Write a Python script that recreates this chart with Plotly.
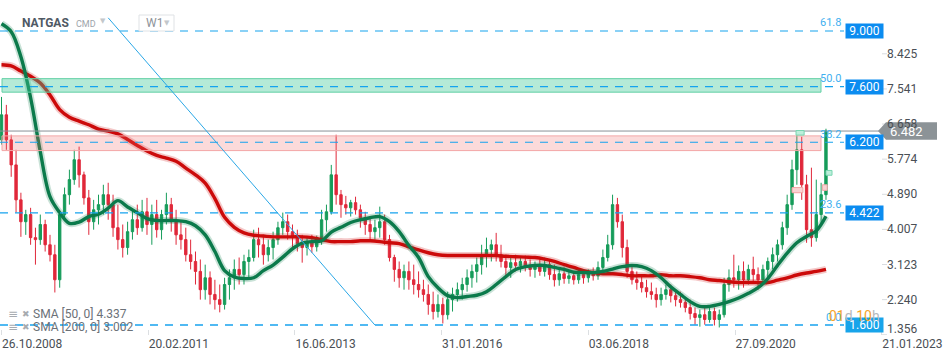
import plotly.graph_objects as go

# ---------------- data ----------------
# bar positions in weeks since 26.10.2008 (one bar every 4 weeks)
bar_week = list(range(0, 684, 4))

opens = [6.26, 6.89, 6.26, 5.63, 4.75, 4.20, 4.38, 3.80, 3.75, 4.13,
         3.62, 3.37, 2.74, 4.38, 4.88, 5.26, 5.76, 5.38, 4.80, 4.20,
         4.50, 4.63, 4.88, 4.63, 4.05, 3.75, 3.55, 3.95, 4.25, 4.05,
         4.45, 4.13, 4.38, 4.00, 4.38, 4.63, 4.20, 3.87, 3.75, 3.37,
         3.20, 2.95, 2.49, 2.79, 2.37, 2.24, 2.12, 2.62, 2.79, 3.00,
         2.87, 3.20, 3.30, 3.75, 3.62, 3.37, 3.55, 3.75, 4.05, 4.20,
         3.95, 3.80, 3.65, 3.55, 3.67, 3.57, 3.75, 4.25, 4.45, 5.38,
         4.88, 4.63, 4.55, 4.68, 4.50, 4.30, 4.13, 3.95, 4.05, 4.20,
         3.75, 3.30, 3.00, 2.79, 2.95, 2.74, 2.62, 2.49, 2.37, 2.12,
         1.94, 2.12, 1.86, 2.24, 2.37, 2.49, 2.62, 2.79, 2.95, 3.12,
         3.37, 3.50, 3.62, 3.37, 3.20, 3.05, 3.17, 3.10, 3.20, 3.05,
         3.00, 3.10, 2.95, 3.12, 2.87, 2.74, 2.89, 2.77, 2.84, 2.74,
         2.87, 2.79, 2.89, 2.84, 3.05, 3.30, 3.62, 4.63, 4.20, 3.55,
         2.95, 2.74, 2.67, 2.54, 2.44, 2.37, 2.24, 2.37, 2.49, 2.34,
         2.24, 2.17, 2.04, 1.89, 1.79, 1.86, 1.74, 1.94, 1.74, 1.86,
         2.62, 2.79, 2.74, 2.95, 2.74, 3.00, 2.87, 2.74, 3.00, 3.20,
         3.37, 3.62, 4.05, 4.63, 5.51, 6.01, 5.13, 4.00, 3.80, 4.38,
         4.88]

highs = [7.34, 7.14, 6.39, 6.01, 4.93, 4.50, 4.55, 4.05, 4.38, 4.25,
         3.87, 3.62, 4.50, 5.06, 5.51, 6.01, 6.09, 5.46, 5.00, 4.75,
         4.88, 5.13, 5.18, 4.88, 4.63, 4.13, 4.20, 4.50, 4.63, 4.75,
         4.80, 4.63, 4.75, 4.50, 4.93, 4.80, 4.50, 4.20, 4.05, 3.75,
         3.45, 3.25, 3.12, 2.95, 2.74, 2.62, 2.79, 3.00, 3.25, 3.30,
         3.37, 3.50, 4.00, 4.05, 3.87, 3.75, 3.95, 4.20, 4.43, 4.38,
         4.13, 4.00, 3.87, 3.82, 3.87, 3.85, 4.50, 4.63, 5.63, 6.39,
         5.00, 4.85, 4.75, 4.83, 4.63, 4.45, 4.30, 4.25, 4.58, 4.38,
         3.87, 3.37, 3.20, 3.12, 3.20, 3.12, 2.95, 2.74, 2.62, 2.44,
         2.37, 2.29, 2.44, 2.54, 2.67, 2.79, 3.00, 3.12, 3.30, 3.62,
         3.80, 3.75, 3.92, 3.62, 3.37, 3.30, 3.37, 3.32, 3.35, 3.25,
         3.20, 3.25, 3.30, 3.25, 3.12, 3.05, 3.05, 2.95, 2.95, 2.97,
         3.00, 3.00, 3.05, 3.20, 3.50, 3.87, 4.88, 4.80, 4.38, 3.75,
         3.12, 2.95, 2.84, 2.74, 2.67, 2.54, 2.54, 2.62, 2.62, 2.49,
         2.44, 2.29, 2.24, 2.04, 1.99, 2.09, 2.04, 2.04, 1.99, 2.79,
         3.00, 3.37, 3.10, 3.20, 3.12, 3.32, 3.05, 3.12, 3.30, 3.55,
         3.75, 4.20, 4.88, 5.76, 6.44, 6.34, 5.38, 5.56, 5.26, 5.18,
         6.54]

lows = [6.14, 6.01, 5.33, 4.43, 3.82, 3.87, 3.62, 3.12, 3.62, 3.45,
        3.20, 2.42, 2.54, 4.25, 4.63, 5.13, 5.06, 4.63, 3.87, 4.00,
        4.13, 4.38, 4.25, 3.82, 3.50, 3.30, 3.37, 3.75, 3.87, 3.95,
        3.87, 3.62, 3.80, 3.75, 4.13, 3.95, 3.62, 3.50, 3.20, 3.00,
        2.62, 2.24, 2.24, 2.12, 1.99, 1.92, 1.99, 2.24, 2.49, 2.62,
        2.62, 2.74, 3.20, 3.30, 3.12, 3.20, 3.25, 3.62, 3.87, 3.75,
        3.55, 3.45, 3.17, 3.35, 3.42, 3.45, 3.62, 3.95, 4.38, 4.63,
        4.30, 4.38, 4.33, 4.38, 4.05, 3.87, 3.75, 3.75, 3.80, 3.62,
        3.20, 2.69, 2.54, 2.49, 2.49, 2.37, 2.29, 2.19, 1.86, 1.74,
        1.79, 1.64, 1.74, 1.94, 2.19, 2.24, 2.44, 2.54, 2.67, 2.87,
        3.05, 3.20, 3.20, 3.05, 2.82, 2.79, 2.95, 2.92, 2.95, 2.82,
        2.79, 2.84, 2.82, 2.74, 2.57, 2.59, 2.64, 2.64, 2.62, 2.64,
        2.64, 2.67, 2.72, 2.74, 2.89, 3.20, 3.50, 4.05, 3.30, 2.79,
        2.62, 2.49, 2.42, 2.29, 2.24, 2.04, 2.09, 2.24, 2.17, 2.07,
        2.04, 1.92, 1.74, 1.61, 1.56, 1.61, 1.66, 1.59, 1.54, 1.79,
        2.44, 2.54, 2.49, 2.54, 2.62, 2.69, 2.49, 2.62, 2.79, 3.00,
        3.20, 3.50, 3.87, 4.50, 5.13, 4.75, 3.67, 3.57, 3.70, 4.13,
        4.75]

closes = [6.89, 6.26, 5.63, 4.75, 4.20, 4.38, 3.80, 3.75, 4.13, 3.62,
          3.37, 2.74, 4.38, 4.88, 5.26, 5.76, 5.38, 4.80, 4.20, 4.50,
          4.63, 4.88, 4.63, 4.05, 3.75, 3.55, 3.95, 4.25, 4.05, 4.45,
          4.13, 4.38, 4.00, 4.38, 4.63, 4.20, 3.87, 3.75, 3.37, 3.20,
          2.95, 2.49, 2.79, 2.37, 2.24, 2.12, 2.62, 2.79, 3.00, 2.87,
          3.20, 3.30, 3.75, 3.62, 3.37, 3.55, 3.75, 4.05, 4.20, 3.95,
          3.80, 3.65, 3.55, 3.67, 3.57, 3.75, 4.25, 4.45, 5.38, 4.88,
          4.63, 4.55, 4.68, 4.50, 4.30, 4.13, 3.95, 4.05, 4.20, 3.75,
          3.30, 3.00, 2.79, 2.95, 2.74, 2.62, 2.49, 2.37, 2.12, 1.94,
          2.12, 1.86, 2.24, 2.37, 2.49, 2.62, 2.79, 2.95, 3.12, 3.37,
          3.50, 3.62, 3.37, 3.20, 3.05, 3.17, 3.10, 3.20, 3.05, 3.00,
          3.10, 2.95, 3.12, 2.87, 2.74, 2.89, 2.77, 2.84, 2.74, 2.87,
          2.79, 2.89, 2.84, 3.05, 3.30, 3.62, 4.63, 4.20, 3.55, 2.95,
          2.74, 2.67, 2.54, 2.44, 2.37, 2.24, 2.37, 2.49, 2.34, 2.24,
          2.17, 2.04, 1.89, 1.79, 1.86, 1.74, 1.94, 1.74, 1.86, 2.62,
          2.79, 2.74, 2.95, 2.74, 3.00, 2.87, 2.74, 3.00, 3.20, 3.37,
          3.62, 4.05, 4.63, 5.51, 6.01, 5.13, 4.00, 3.80, 4.38, 4.88,
          6.482]

# moving averages sampled every 8 weeks
sma_week = list(range(0, 681, 8))
sma50 = [9.18, 8.98, 8.35, 7.32, 5.96, 4.83, 4.43, 4.16, 4.19, 4.33,
         4.39, 4.54, 4.73, 4.57, 4.43, 4.28, 4.23, 4.23, 4.23, 4.20,
         4.10, 3.87, 3.45, 2.97, 2.81, 2.77, 2.79, 2.97, 3.11, 3.31,
         3.52, 3.66, 3.70, 3.72, 3.94, 4.06, 4.18, 4.25, 4.30, 4.33,
         4.20, 3.95, 3.60, 3.30, 2.82, 2.54, 2.34, 2.29, 2.32, 2.35,
         2.44, 2.62, 2.82, 3.00, 3.07, 3.10, 3.10, 3.05, 3.00, 2.93,
         2.92, 2.92, 2.95, 3.01, 3.07, 3.10, 3.07, 2.97, 2.79, 2.56,
         2.37, 2.19, 2.07, 2.07, 2.12, 2.19, 2.28, 2.40, 2.54, 2.77,
         3.10, 3.41, 3.67, 3.83, 3.97, 4.337]
sma200 = [8.15, 8.12, 7.99, 7.86, 7.69, 7.39, 7.02, 6.83, 6.73, 6.64,
          6.53, 6.48, 6.41, 6.27, 6.12, 5.98, 5.87, 5.80, 5.72, 5.55,
          5.38, 5.17, 4.78, 4.31, 4.06, 3.92, 3.86, 3.84, 3.82, 3.82,
          3.82, 3.82, 3.80, 3.75, 3.70, 3.70, 3.70, 3.72, 3.72, 3.70,
          3.67, 3.65, 3.57, 3.49, 3.42, 3.37, 3.35, 3.35, 3.35, 3.35,
          3.35, 3.35, 3.33, 3.32, 3.31, 3.30, 3.26, 3.20, 3.12, 3.05,
          2.97, 2.92, 2.89, 2.89, 2.87, 2.84, 2.84, 2.84, 2.87, 2.84,
          2.84, 2.82, 2.79, 2.74, 2.72, 2.69, 2.67, 2.67, 2.67, 2.67,
          2.73, 2.79, 2.86, 2.91, 2.95, 3.002]

tick_weeks = [0, 121, 242, 363, 484, 605, 726]
tick_labels = ["26.10.2008", "20.02.2011", "16.06.2013", "31.01.2016",
               "03.06.2018", "27.09.2020", "21.01.2023"]
price_ticks = [8.425, 7.541, 6.658, 5.774, 4.890, 4.007, 3.123, 2.240, 1.356]

fib_levels = [9.000, 7.600, 6.200, 4.422, 1.600]
fib_names = ["61.8", "50.0", "38.2", "23.6", "0.0"]
last_price = 6.482
green_zone = (7.46, 7.80)
red_zone = (5.99, 6.36)
trend_start = (88, 9.33)
trend_end = (308, 1.60)

# ---------------- figure ----------------
W, H = 950, 360
FONT = "Roboto, Arial, sans-serif"
PLOT_BOTTOM = 335
Y_MIN, Y_MAX = 1.350, 9.779


def px(x):
    return x / W


def py(y):
    return 1 - y / H


fig = go.Figure()

fig.add_trace(go.Candlestick(
    x=bar_week, open=opens, high=highs, low=lows, close=closes,
    increasing=dict(line=dict(color="#169c5a", width=1), fillcolor="#169c5a"),
    decreasing=dict(line=dict(color="#e0283a", width=1), fillcolor="#e0283a"),
    whiskerwidth=0, hoverinfo="skip"))

for vals, col in ((sma200, "#cc0a0a"), (sma50, "#0b7a4b")):
    fig.add_trace(go.Scatter(x=sma_week, y=vals, mode="lines",
                             line=dict(color=col, width=7, shape="spline"),
                             opacity=0.22, hoverinfo="skip"))
    fig.add_trace(go.Scatter(x=sma_week, y=vals, mode="lines",
                             line=dict(color=col, width=3.4, shape="spline"),
                             hoverinfo="skip"))

shapes = []
# zones
shapes.append(dict(type="rect", xref="paper", yref="y", x0=px(2), x1=px(821),
                   y0=green_zone[0], y1=green_zone[1],
                   fillcolor="rgba(60,200,150,0.38)",
                   line=dict(color="#62d0a5", width=1), layer="above"))
shapes.append(dict(type="rect", xref="paper", yref="y", x0=px(2), x1=px(821),
                   y0=red_zone[0], y1=red_zone[1],
                   fillcolor="rgba(240,100,100,0.24)",
                   line=dict(color="#f3a7a7", width=1), layer="above"))
# last price line
shapes.append(dict(type="line", xref="paper", yref="y", x0=0, x1=px(879),
                   y0=last_price, y1=last_price,
                   line=dict(color="#8a9196", width=1), layer="above"))
# fib dashed levels
for i, lv in enumerate(fib_levels):
    shapes.append(dict(type="line", xref="paper", yref="y", x0=0, x1=px(844),
                       y0=lv, y1=lv,
                       line=dict(color="#17a3ee", width=1.6 if i == 4 else 1.1,
                                 dash="8px,7px"), layer="above"))
# trend line
shapes.append(dict(type="line", xref="x", yref="y",
                   x0=trend_start[0], y0=trend_start[1],
                   x1=trend_end[0], y1=trend_end[1],
                   line=dict(color="#2aa7e6", width=1), layer="above"))
# small order markers
for (x0, x1, y0, y1, fc, lc) in [
        (655.3, 662.0, 6.38, 6.495, "#bdeedb", "#78d6b0"),
        (652.0, 661.0, 4.93, 5.06, "#f9d3d3", "#f2a5a5"),
        (680.0, 685.0, 5.37, 5.49, "#bdeedb", "#78d6b0"),
        (677.0, 681.0, 4.99, 5.13, "#f9d3d3", "#f2a5a5")]:
    shapes.append(dict(type="rect", xref="x", yref="y", x0=x0, x1=x1, y0=y0, y1=y1,
                       fillcolor=fc, line=dict(color=lc, width=1), layer="above"))
# price axis tick dashes
for v in price_ticks:
    shapes.append(dict(type="line", xref="paper", yref="y", x0=px(882), x1=px(887),
                       y0=v, y1=v, line=dict(color="#d9dcdf", width=1)))
# W1 box
shapes.append(dict(type="rect", xref="paper", yref="paper", x0=px(139), x1=px(174),
                   y0=py(31), y1=py(15), fillcolor="white",
                   line=dict(color="#dfe2e5", width=1)))
# last-price flag
half = 8.7 * (Y_MAX - Y_MIN) / PLOT_BOTTOM
shapes.append(dict(type="path", xref="paper", yref="y",
                   path=(f"M {px(878)},{last_price} L {px(886)},{last_price + half} "
                         f"L {px(937)},{last_price + half} L {px(937)},{last_price - half} "
                         f"L {px(886)},{last_price - half} Z"),
                   fillcolor="#8c9397", line=dict(width=0), layer="above"))

ann = []
# price labels (drawn before the flag text)
for v in price_ticks:
    ann.append(dict(xref="paper", yref="y", x=px(919), y=v, xanchor="right",
                    yanchor="middle", text=f"{v:.3f}", showarrow=False,
                    yshift=6 if v == price_ticks[-1] else 0,
                    font=dict(family=FONT, size=12, color="#4a4f55")))
# fib labels and value boxes
for i, (lv, nm) in enumerate(zip(fib_levels, fib_names)):
    ann.append(dict(xref="paper", yref="y", x=px(843), y=lv, xanchor="right",
                    yanchor="middle", yshift=8, text=nm, showarrow=False,
                    font=dict(family=FONT, size=11, color="#3fb0f0")))
    ann.append(dict(xref="paper", yref="y", x=px(845), y=lv, xanchor="left",
                    yanchor="middle", text=f"{lv:.3f}", showarrow=False,
                    bgcolor="#18a4ea" if i == 4 else "#0b8cf0",
                    width=35, height=12, borderpad=1, align="center",
                    font=dict(family=FONT, size=12, color="white")))
# flag text
ann.append(dict(xref="paper", yref="y", x=px(906), y=last_price, xanchor="center",
                yanchor="middle", text=f"{last_price:.3f}", showarrow=False,
                font=dict(family=FONT, size=13, color="white")))
# countdown
ann.append(dict(xref="paper", yref="paper", x=px(827), y=py(316), xanchor="left",
                yanchor="middle", showarrow=False,
                text=("<span style='color:#f5a42a'>01</span><span style='color:#b5b9bd'>d</span> "
                      "<span style='color:#f5a42a'>10</span><span style='color:#b5b9bd'>h</span>"),
                font=dict(family=FONT, size=14, color="#f5a42a")))
# header
ann.append(dict(xref="paper", yref="paper", x=px(20), y=py(23), xanchor="left",
                yanchor="middle", text="<b>NATGAS</b>", showarrow=False,
                font=dict(family=FONT, size=12, color="#4f5964")))
ann.append(dict(xref="paper", yref="paper", x=px(74), y=py(24), xanchor="left",
                yanchor="middle", text="CMD", showarrow=False,
                font=dict(family=FONT, size=9, color="#9ea4aa")))
ann.append(dict(xref="paper", yref="paper", x=px(103), y=py(21), xanchor="center",
                yanchor="middle", text="▼", showarrow=False,
                font=dict(family="DejaVu Sans", size=7, color="#c3c7cb")))
ann.append(dict(xref="paper", yref="paper", x=px(144), y=py(23), xanchor="left",
                yanchor="middle", text="W1", showarrow=False,
                font=dict(family=FONT, size=12, color="#8d939a")))
ann.append(dict(xref="paper", yref="paper", x=px(167), y=py(23), xanchor="center",
                yanchor="middle", text="▼", showarrow=False,
                font=dict(family="DejaVu Sans", size=7, color="#c3c7cb")))
# legend rows
for row_y, txt in ((314, f"SMA [50, 0] {sma50[-1]:.3f}"),
                   (327, f"SMA [200, 0] {sma200[-1]:.3f}")):
    ann.append(dict(xref="paper", yref="paper", x=px(6), y=py(row_y), xanchor="left",
                    yanchor="middle", text="≡", showarrow=False,
                    font=dict(family="DejaVu Sans", size=12, color="#a7abb0")))
    ann.append(dict(xref="paper", yref="paper", x=px(20), y=py(row_y), xanchor="left",
                    yanchor="middle", text="✖", showarrow=False,
                    font=dict(family="DejaVu Sans", size=9, color="#a7abb0")))
    ann.append(dict(xref="paper", yref="paper", x=px(31), y=py(row_y), xanchor="left",
                    yanchor="middle", text=txt, showarrow=False,
                    font=dict(family=FONT, size=12, color="#6b7178")))

fig.update_layout(
    width=W, height=H, margin=dict(l=0, r=0, t=0, b=0),
    paper_bgcolor="white", plot_bgcolor="white", showlegend=False,
    hovermode=False, shapes=shapes, annotations=ann,
    font=dict(family=FONT),
    xaxis=dict(domain=[0, 1], range=[-1.237, 782.3], tickvals=tick_weeks,
               ticktext=tick_labels, showgrid=False, zeroline=False, showline=False,
               ticks="inside", ticklen=5, tickcolor="#dcdfe2",
               ticklabelposition="outside right",
               tickfont=dict(family=FONT, size=12, color="#4a4f55"),
               rangeslider=dict(visible=False), fixedrange=True),
    yaxis=dict(domain=[1 - PLOT_BOTTOM / H, 1], range=[Y_MIN, Y_MAX],
               showticklabels=False, showgrid=False, zeroline=False,
               showline=False, fixedrange=True),
)

fig.write_html("out.html", config={"displayModeBar": False, "staticPlot": True},
               post_script="document.body.style.margin='0';document.body.style.overflow='hidden';")
